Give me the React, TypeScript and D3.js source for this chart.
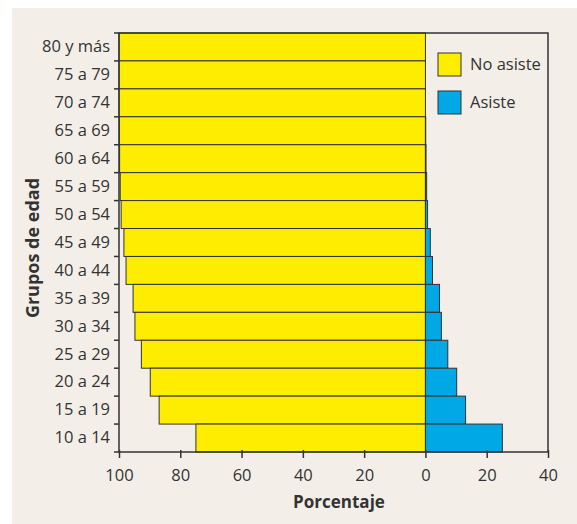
import React, { useEffect, useRef } from 'react';
import * as d3 from 'd3';

const groups = ['80 y más', '75 a 79', '70 a 74', '65 a 69', '60 a 64', '55 a 59', '50 a 54', '45 a 49', '40 a 44', '35 a 39', '30 a 34', '25 a 29', '20 a 24', '15 a 19', '10 a 14'];
const noAsiste = [100, 100, 100, 99.9, 99.8, 99.6, 99.3, 98.4, 97.7, 95.4, 94.8, 92.7, 89.8, 86.9, 74.9];
const asiste = [0, 0, 0, 0.1, 0.2, 0.4, 0.7, 1.6, 2.3, 4.6, 5.2, 7.3, 10.2, 13.1, 25.1];
const xTicks = [-100, -80, -60, -40, -20, 0, 20, 40];

const App = () => {
    const svgRef = useRef(null);

    useEffect(() => {
        const svg = d3.select(svgRef.current);
        const width = 577;
        const height = 524;
        const marginTop = 33;
        const marginRight = 29;
        const marginBottom = 72;
        const marginLeft = 119;
        const font = '"Open Sans", sans-serif';
        const ink = '#333';

        svg.attr('width', width).attr('height', height).selectAll('*').remove();

        svg.append('rect')
            .attr('x', 12).attr('y', 8)
            .attr('width', width - 12).attr('height', height - 8)
            .attr('fill', '#f3efe8');

        const x = d3.scaleLinear()
            .domain([-100, 40])
            .range([marginLeft, width - marginRight]);

        const y = d3.scaleBand()
            .domain(groups)
            .range([marginTop, height - marginBottom])
            .padding(0);

        // bars
        svg.append('g').selectAll('rect')
            .data(groups)
            .enter()
            .append('rect')
            .attr('x', (d, i) => x(-noAsiste[i]))
            .attr('y', d => y(d))
            .attr('width', (d, i) => x(0) - x(-noAsiste[i]))
            .attr('height', y.bandwidth())
            .attr('fill', '#ffed00')
            .attr('stroke', ink)
            .attr('stroke-width', 1);

        svg.append('g').selectAll('rect')
            .data(groups.filter((d, i) => asiste[i] > 0))
            .enter()
            .append('rect')
            .attr('x', x(0))
            .attr('y', d => y(d))
            .attr('width', d => x(asiste[groups.indexOf(d)]) - x(0))
            .attr('height', y.bandwidth())
            .attr('fill', '#00a9e6')
            .attr('stroke', ink)
            .attr('stroke-width', 1);

        // frame
        svg.append('rect')
            .attr('x', marginLeft).attr('y', marginTop)
            .attr('width', x(40) - marginLeft)
            .attr('height', height - marginBottom - marginTop)
            .attr('fill', 'none')
            .attr('stroke', ink)
            .attr('stroke-width', 1.5);

        // x axis
        const xAxis = svg.append('g')
            .attr('transform', `translate(0, ${height - marginBottom})`)
            .call(d3.axisBottom(x).tickValues(xTicks).tickSize(6).tickFormat(d => Math.abs(d)));
        xAxis.select('.domain').remove();
        xAxis.selectAll('line').attr('stroke', ink).attr('stroke-width', 1.5).attr('y1', -2);
        xAxis.selectAll('text')
            .attr('font-family', font).attr('font-size', 16.5).attr('fill', ink)
            .attr('dy', null).attr('y', 29);

        // y axis
        const yAxis = svg.append('g')
            .attr('transform', `translate(${marginLeft}, 0)`)
            .call(d3.axisLeft(y).tickSize(0).tickPadding(9));
        yAxis.select('.domain').remove();
        yAxis.selectAll('text')
            .attr('font-family', font).attr('font-size', 16.5).attr('fill', ink);

        svg.append('g').selectAll('line')
            .data(d3.range(groups.length + 1))
            .enter()
            .append('line')
            .attr('x1', marginLeft - 5).attr('x2', marginLeft)
            .attr('y1', i => marginTop + i * y.step())
            .attr('y2', i => marginTop + i * y.step())
            .attr('stroke', ink).attr('stroke-width', 1.5);

        // titles
        svg.append('text')
            .attr('transform', `translate(39, 248) rotate(-90)`)
            .attr('text-anchor', 'middle')
            .attr('font-family', font).attr('font-size', 18).attr('font-weight', 'bold').attr('fill', ink)
            .text('Grupos de edad');

        svg.append('text')
            .attr('x', 339).attr('y', 508)
            .attr('text-anchor', 'middle')
            .attr('font-family', font).attr('font-size', 17).attr('font-weight', 'bold').attr('fill', ink)
            .text('Porcentaje');

        // legend
        const legend = [['No asiste', '#ffed00'], ['Asiste', '#00a9e6']];
        const lg = svg.append('g').selectAll('g')
            .data(legend)
            .enter()
            .append('g')
            .attr('transform', (d, i) => `translate(438, ${53 + i * 38})`);
        lg.append('rect')
            .attr('width', 23).attr('height', 23)
            .attr('fill', d => d[1])
            .attr('stroke', ink).attr('stroke-width', 1);
        lg.append('text')
            .attr('x', 32).attr('y', 17)
            .attr('font-family', font).attr('font-size', 16.5).attr('fill', ink)
            .text(d => d[0]);
    }, []);

    return <svg ref={svgRef} style={{ position: 'absolute', left: 0, top: 0 }}></svg>;
};

export default App;
